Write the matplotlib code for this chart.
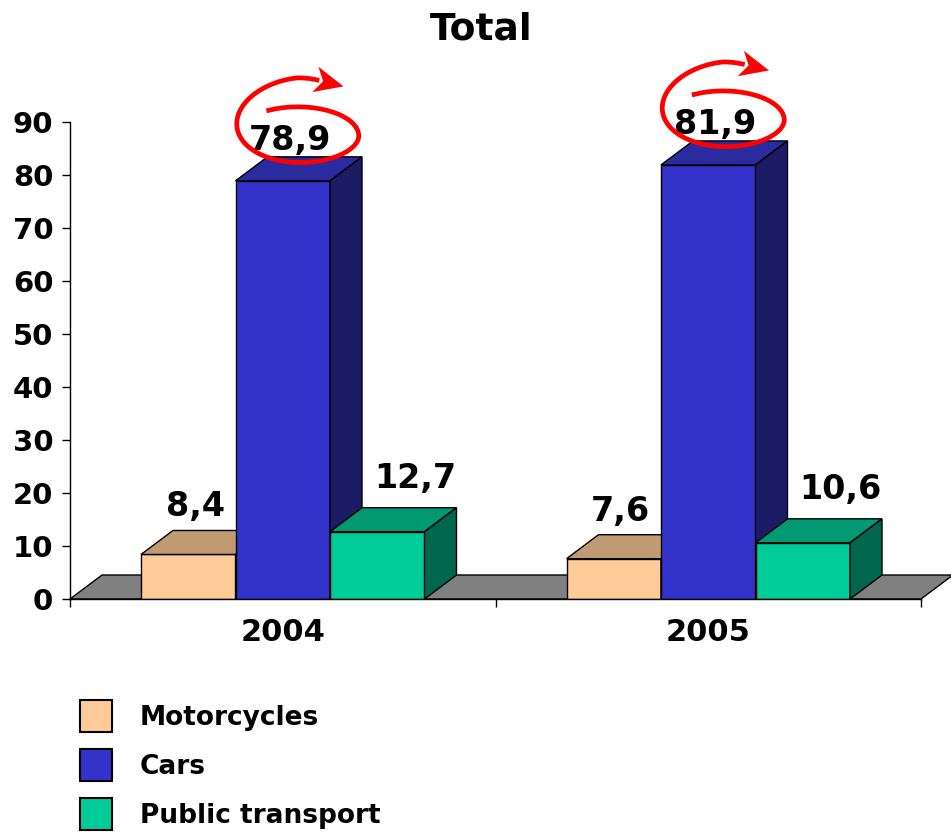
import numpy as np
import matplotlib
matplotlib.use("Agg")
import matplotlib.pyplot as plt
from matplotlib.patches import Rectangle

# data
years = ["2004", "2005"]
series = ["Motorcycles", "Cars", "Public transport"]
motorcycles = [8.4, 7.6]
cars = [78.9, 81.9]
public_transport = [12.7, 10.6]
yticks = list(range(0, 100, 10))

# colours: front, top, side
front_colors = ["#FFCC99", "#3333CC", "#00CC99"]
top_colors = ["#C09A72", "#2B2BA0", "#009A72"]
side_colors = ["#99704D", "#1C1C66", "#00664E"]

W, H = 951, 836
fig = plt.figure(figsize=(W / 100, H / 100), dpi=100)
ax = fig.add_axes([70 / W, (H - 599) / H, 851 / W, 477 / H])
ax.set_xlim(0, 2)
ax.set_ylim(0, 90)

# pixel -> data unit helpers
PX = 2 / 851
PY = 90 / 477
DX = 32 * PX   # depth of the 3d effect
DY = 24 * PY
bar_w = 94.5 * PX

# floor
ax.fill([0, 2, 2 + DX, DX], [0, 0, DY, DY], facecolor="#808080",
        edgecolor="black", lw=1, zorder=1, clip_on=False)

values = [motorcycles, cars, public_transport]
label_dx = [7, 7, 38]     # px shifts of value labels
label_dy = [14, 7, 20]


def spiral(cx, cy):
    """red hand drawn spiral with arrow head, offsets in pixels (y down)"""
    phi = np.linspace(-0.54, 2 * np.pi + 0.36, 300)
    t = np.clip((phi - np.pi / 2) / (1.5 * np.pi), 0, 1)
    oy = 14 - 18 * t
    ry = 29 + 11 * t
    px = 61 * np.sin(phi)
    py = oy - ry * np.cos(phi)
    ax.plot(cx + px * PX, cy - py * PY, color="#FF0000", lw=3.4,
            zorder=60, clip_on=False, solid_capstyle="butt")
    # arrow head along the end tangent
    e = phi[-1]
    d = np.array([61 * np.cos(e), ry[-1] * np.sin(e)])
    d = d / np.hypot(*d)
    n = np.array([-d[1], d[0]])
    base = np.array([px[-1], py[-1]])
    tip = base + 25 * d
    b1 = base + 13 * n - 4 * d
    b2 = base - 13 * n - 4 * d
    tri = np.array([tip, b1, base + 4 * d, b2])
    ax.fill(cx + tri[:, 0] * PX, cy - tri[:, 1] * PY, color="#FF0000",
            lw=0, zorder=60, clip_on=False)


z = 2
for g in range(len(years)):
    center = g + 0.5
    for s in range(len(series)):
        v = values[s][g]
        x0 = center + (s - 1) * bar_w - bar_w / 2
        x1 = x0 + bar_w
        ax.bar(x0, v, width=bar_w, align="edge", color=front_colors[s],
               edgecolor="black", lw=1, zorder=z)
        ax.fill([x0, x1, x1 + DX, x0 + DX], [v, v, v + DY, v + DY],
                facecolor=top_colors[s], edgecolor="black", lw=1, zorder=z,
                clip_on=False)
        ax.fill([x1, x1 + DX, x1 + DX, x1], [0, DY, v + DY, v],
                facecolor=side_colors[s], edgecolor="black", lw=1, zorder=z,
                clip_on=False)
        z += 1
        ax.text(x0 + bar_w / 2 + label_dx[s] * PX, v + DY + label_dy[s] * PY,
                f"{v:.1f}".replace(".", ","), ha="center", va="baseline",
                fontsize=24, fontweight="bold", zorder=50, clip_on=False)

    # red spiral arrow around the cars value
    spiral(center + 15 * PX, cars[g] + 59 * PY)

# axes styling
for side in ["top", "right"]:
    ax.spines[side].set_visible(False)
ax.spines["left"].set_linewidth(1)
ax.spines["bottom"].set_linewidth(1)
ax.spines["bottom"].set_zorder(40)
ax.set_yticks(yticks)
ax.set_yticklabels([str(t) for t in yticks], fontsize=21, fontweight="bold")
ax.tick_params(axis="y", length=6, width=1, pad=6)
ax.set_xticks([0, 1, 2])
ax.set_xticklabels([])
ax.set_xticks([0.5, 1.5], minor=True)
ax.set_xticklabels(years, minor=True, fontsize=22, fontweight="bold")
ax.tick_params(axis="x", which="major", length=6, width=1)
ax.tick_params(axis="x", which="minor", length=0, pad=14)

fig.text(481 / W, 1 - 30 / H, "Total", ha="center", va="center",
         fontsize=27, fontweight="bold")

# legend
for i, name in enumerate(series):
    top = 700 + i * 49
    fig.add_artist(Rectangle((80 / W, 1 - (top + 32) / H), 32 / W, 32 / H,
                             transform=fig.transFigure, facecolor=front_colors[i],
                             edgecolor="black", lw=1.5))
    fig.text(140 / W, 1 - (top + 18) / H, name, ha="left", va="center",
             fontsize=19, fontweight="bold")

fig.savefig("out.png", dpi=100)
